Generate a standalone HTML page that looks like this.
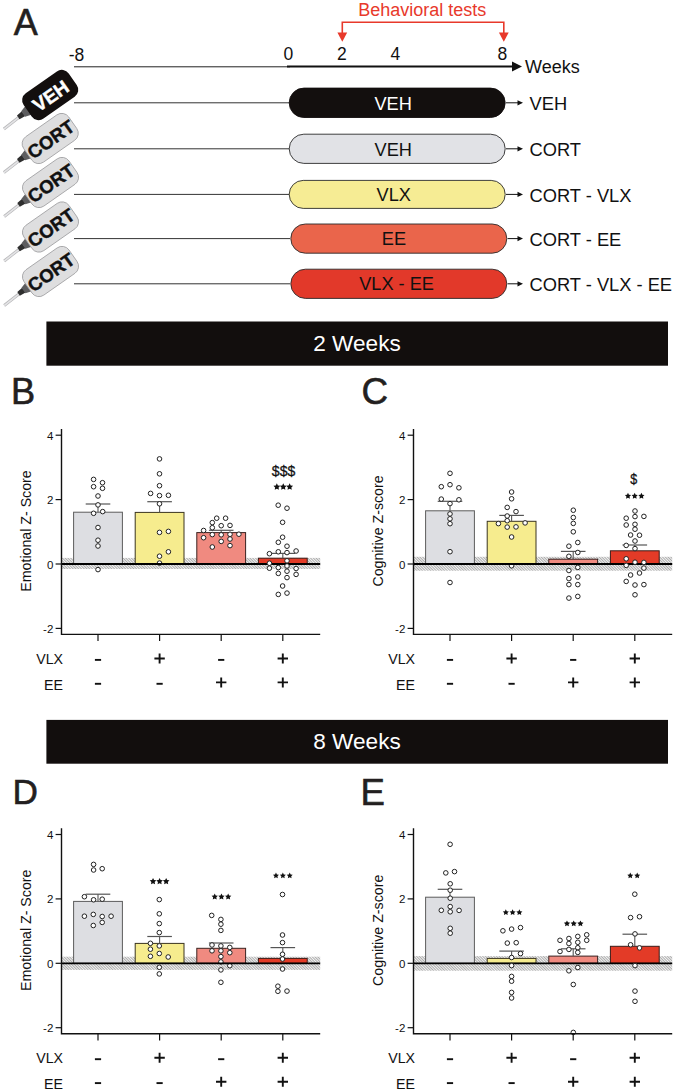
<!DOCTYPE html>
<html><head><meta charset="utf-8"><style>
html,body{margin:0;padding:0;background:#fff;}
svg{display:block;}
text{font-family:"Liberation Sans", sans-serif;}
</style></head><body>
<svg width="675" height="1092" viewBox="0 0 675 1092">
<defs>
<pattern id="hatch" patternUnits="userSpaceOnUse" width="1.95" height="4" patternTransform="rotate(-45)">
<rect width="1.95" height="4" fill="#f3f3f3"/>
<line x1="0.5" y1="0" x2="0.5" y2="4" stroke="#a5a5a5" stroke-width="0.9"/>
</pattern>
</defs>
<rect width="675" height="1092" fill="#fff"/>

<text x="13.8" y="35" font-size="36" fill="#231f20" stroke="#231f20" stroke-width="0.6">A</text>
<line x1="74" y1="66.8" x2="290" y2="66.8" stroke="#222" stroke-width="1"/>
<line x1="287" y1="66.4" x2="514" y2="66.4" stroke="#111" stroke-width="2"/>
<path d="M512,61.4 L522,66.4 L512,71.4 Z" fill="#111"/>
<text x="76.5" y="60.5" text-anchor="middle" font-size="17.5" fill="#111">-8</text>
<text x="288.3" y="60.1" text-anchor="middle" font-size="17.5" fill="#111">0</text>
<text x="341.8" y="60.1" text-anchor="middle" font-size="17.5" fill="#111">2</text>
<text x="395.3" y="60.1" text-anchor="middle" font-size="17.5" fill="#111">4</text>
<text x="502.3" y="59.7" text-anchor="middle" font-size="17.5" fill="#111">8</text>
<text x="525" y="73" font-size="18" fill="#111">Weeks</text>
<text x="422.2" y="15.6" text-anchor="middle" font-size="18" fill="#e8392b">Behavioral tests</text>
<path d="M342.3,34 V22.2 H503.8 V34" fill="none" stroke="#e8392b" stroke-width="1.6"/>
<path d="M337.4,32.6 L347.2,32.6 L342.3,41.8 Z" fill="#e8392b"/>
<path d="M498.9,32.6 L508.7,32.6 L503.8,41.8 Z" fill="#e8392b"/>
<line x1="74" y1="102.8" x2="290" y2="102.8" stroke="#333" stroke-width="1"/>
<rect x="289.2" y="88.10" width="216" height="29.4" rx="14.7" fill="#130f0e" stroke="#130f0e" stroke-width="0.9"/><text x="393.2" y="109.90" text-anchor="middle" font-size="18.2" fill="#fff">VEH</text>
<line x1="506" y1="102.8" x2="519" y2="102.8" stroke="#111" stroke-width="1"/><path d="M517.5,100.2 L523,102.8 L517.5,105.39999999999999 Z" fill="#111"/>
<text x="529.5" y="110.00" font-size="18.3" fill="#111">VEH</text>
<line x1="74" y1="148.8" x2="290" y2="148.8" stroke="#333" stroke-width="1"/>
<rect x="289.2" y="134.20" width="216" height="29.2" rx="14.6" fill="#e1e2e6" stroke="#2a2a2a" stroke-width="0.9"/><text x="393.3" y="155.90" text-anchor="middle" font-size="18.2" fill="#111">VEH</text>
<line x1="506" y1="148.8" x2="519" y2="148.8" stroke="#111" stroke-width="1"/><path d="M517.5,146.20000000000002 L523,148.8 L517.5,151.4 Z" fill="#111"/>
<text x="529.5" y="156.00" font-size="18.3" fill="#111">CORT</text>
<line x1="74" y1="194.4" x2="290" y2="194.4" stroke="#333" stroke-width="1"/>
<rect x="289.2" y="180.40" width="216" height="28.0" rx="14.0" fill="#f6ec94" stroke="#2a2a2a" stroke-width="0.9"/><text x="393.8" y="201.20" text-anchor="middle" font-size="18.2" fill="#111">VLX</text>
<line x1="506" y1="194.4" x2="519" y2="194.4" stroke="#111" stroke-width="1"/><path d="M517.5,191.8 L523,194.4 L517.5,197.0 Z" fill="#111"/>
<text x="529.5" y="201.60" font-size="18.3" fill="#111">CORT - VLX</text>
<line x1="74" y1="238.6" x2="290" y2="238.6" stroke="#333" stroke-width="1"/>
<rect x="290.8" y="224.00" width="216" height="29.2" rx="14.6" fill="#ea654b" stroke="#2a2a2a" stroke-width="0.9"/><text x="393.9" y="245.00" text-anchor="middle" font-size="18.2" fill="#111">EE</text>
<line x1="507.6" y1="238.6" x2="519" y2="238.6" stroke="#111" stroke-width="1"/><path d="M517.5,236.0 L523,238.6 L517.5,241.2 Z" fill="#111"/>
<text x="529.5" y="245.80" font-size="18.3" fill="#111">CORT - EE</text>
<line x1="74" y1="283.8" x2="290" y2="283.8" stroke="#333" stroke-width="1"/>
<rect x="290.8" y="269.20" width="216" height="29.2" rx="14.6" fill="#e2392a" stroke="#2a2a2a" stroke-width="0.9"/><text x="396.6" y="289.90" text-anchor="middle" font-size="18.2" fill="#111">VLX - EE</text>
<line x1="507.6" y1="283.8" x2="519" y2="283.8" stroke="#111" stroke-width="1"/><path d="M517.5,281.2 L523,283.8 L517.5,286.40000000000003 Z" fill="#111"/>
<text x="529.5" y="291.00" font-size="18.3" fill="#111">CORT - VLX - EE</text>
<g transform="translate(50.2,95.0) rotate(-35)"><g transform="rotate(-3,-33,0)"><line x1="-38" y1="0" x2="-57.5" y2="0" stroke="#b8b8ba" stroke-width="3"/><line x1="-38" y1="0" x2="-57.5" y2="0" stroke="#e4e4e6" stroke-width="1.6"/></g><path d="M-32.5,-3 L-39,-2.2 L-39,2.2 L-32.5,3 Z" fill="#2e2e2e"/><path d="M-26,-5.5 L-33,-3.4 L-33,3.4 L-26,5.5 Z" fill="#5d5d5f"/><rect x="-27.5" y="-15.5" width="55" height="31" rx="8.5" fill="#130f0e"/><text x="0" y="7.64" text-anchor="middle" font-family='"Liberation Sans", sans-serif' font-weight="bold" font-size="19" fill="#fff" stroke="#fff" stroke-width="0.45">VEH</text></g>
<g transform="translate(50.2,138.5) rotate(-35)"><g transform="rotate(-3,-33,0)"><line x1="-38" y1="0" x2="-57.5" y2="0" stroke="#b8b8ba" stroke-width="3"/><line x1="-38" y1="0" x2="-57.5" y2="0" stroke="#e4e4e6" stroke-width="1.6"/></g><path d="M-32.5,-3 L-39,-2.2 L-39,2.2 L-32.5,3 Z" fill="#2e2e2e"/><path d="M-26,-5.5 L-33,-3.4 L-33,3.4 L-26,5.5 Z" fill="#5d5d5f"/><rect x="-27.5" y="-15.5" width="55" height="31" rx="8.5" fill="#dededf" stroke="#a0a0a2" stroke-width="0.8"/><text x="0" y="7.46" text-anchor="middle" font-family='"Liberation Sans", sans-serif' font-weight="bold" font-size="18.5" fill="#111" stroke="#111" stroke-width="0.45">CORT</text></g>
<g transform="translate(50.5,182.5) rotate(-35)"><g transform="rotate(-3,-33,0)"><line x1="-38" y1="0" x2="-57.5" y2="0" stroke="#b8b8ba" stroke-width="3"/><line x1="-38" y1="0" x2="-57.5" y2="0" stroke="#e4e4e6" stroke-width="1.6"/></g><path d="M-32.5,-3 L-39,-2.2 L-39,2.2 L-32.5,3 Z" fill="#2e2e2e"/><path d="M-26,-5.5 L-33,-3.4 L-33,3.4 L-26,5.5 Z" fill="#5d5d5f"/><rect x="-27.5" y="-15.5" width="55" height="31" rx="8.5" fill="#dededf" stroke="#a0a0a2" stroke-width="0.8"/><text x="0" y="7.46" text-anchor="middle" font-family='"Liberation Sans", sans-serif' font-weight="bold" font-size="18.5" fill="#111" stroke="#111" stroke-width="0.45">CORT</text></g>
<g transform="translate(50.5,227) rotate(-35)"><g transform="rotate(-3,-33,0)"><line x1="-38" y1="0" x2="-57.5" y2="0" stroke="#b8b8ba" stroke-width="3"/><line x1="-38" y1="0" x2="-57.5" y2="0" stroke="#e4e4e6" stroke-width="1.6"/></g><path d="M-32.5,-3 L-39,-2.2 L-39,2.2 L-32.5,3 Z" fill="#2e2e2e"/><path d="M-26,-5.5 L-33,-3.4 L-33,3.4 L-26,5.5 Z" fill="#5d5d5f"/><rect x="-27.5" y="-15.5" width="55" height="31" rx="8.5" fill="#dededf" stroke="#a0a0a2" stroke-width="0.8"/><text x="0" y="7.46" text-anchor="middle" font-family='"Liberation Sans", sans-serif' font-weight="bold" font-size="18.5" fill="#111" stroke="#111" stroke-width="0.45">CORT</text></g>
<g transform="translate(50.5,271.5) rotate(-35)"><g transform="rotate(-3,-33,0)"><line x1="-38" y1="0" x2="-57.5" y2="0" stroke="#b8b8ba" stroke-width="3"/><line x1="-38" y1="0" x2="-57.5" y2="0" stroke="#e4e4e6" stroke-width="1.6"/></g><path d="M-32.5,-3 L-39,-2.2 L-39,2.2 L-32.5,3 Z" fill="#2e2e2e"/><path d="M-26,-5.5 L-33,-3.4 L-33,3.4 L-26,5.5 Z" fill="#5d5d5f"/><rect x="-27.5" y="-15.5" width="55" height="31" rx="8.5" fill="#dededf" stroke="#a0a0a2" stroke-width="0.8"/><text x="0" y="7.46" text-anchor="middle" font-family='"Liberation Sans", sans-serif' font-weight="bold" font-size="18.5" fill="#111" stroke="#111" stroke-width="0.45">CORT</text></g>
<rect x="46.4" y="321.5" width="621.6" height="44.2" fill="#120e0d"/>
<text x="357" y="350.5" text-anchor="middle" font-size="22.6" fill="#fff">2 Weeks</text>
<rect x="46.4" y="719.9" width="621.6" height="43.8" fill="#120e0d"/>
<text x="357" y="748.8" text-anchor="middle" font-size="22.6" fill="#fff">8 Weeks</text>
<text x="11" y="403.8" font-size="36.2" fill="#231f20" stroke="#231f20" stroke-width="0.6">B</text>
<text x="361.6" y="404.0" font-size="36.8" fill="#231f20" stroke="#231f20" stroke-width="0.6">C</text>
<text x="12.5" y="804.4" font-size="35.2" fill="#231f20" stroke="#231f20" stroke-width="0.6">D</text>
<text x="360.5" y="804.7" font-size="36.6" fill="#231f20" stroke="#231f20" stroke-width="0.6">E</text>
<g fill="#fff" stroke="#222" stroke-width="1">
</g>
<rect x="61.5" y="557.90" width="258.7" height="11.10" fill="url(#hatch)"/>
<rect x="73.60" y="512.20" width="48.8" height="51.80" fill="#dddee2" stroke="#5c5c5c" stroke-width="1"/>
<line x1="98.00" y1="504.00" x2="98.00" y2="512.20" stroke="#555" stroke-width="1.1"/>
<line x1="85.70" y1="504.00" x2="110.30" y2="504.00" stroke="#555" stroke-width="1.2"/>
<rect x="135.20" y="512.40" width="48.8" height="51.60" fill="#f6ec8e" stroke="#3a3520" stroke-width="1"/>
<line x1="159.60" y1="501.70" x2="159.60" y2="512.40" stroke="#555" stroke-width="1.1"/>
<line x1="147.30" y1="501.70" x2="171.90" y2="501.70" stroke="#555" stroke-width="1.2"/>
<rect x="196.80" y="532.60" width="48.8" height="31.40" fill="#f08a80" stroke="#3a2220" stroke-width="1"/>
<line x1="221.20" y1="530.30" x2="221.20" y2="532.60" stroke="#555" stroke-width="1.1"/>
<line x1="208.90" y1="530.30" x2="233.50" y2="530.30" stroke="#555" stroke-width="1.2"/>
<rect x="258.40" y="558.20" width="48.8" height="5.80" fill="#e33b27" stroke="#3a1c18" stroke-width="1"/>
<line x1="282.80" y1="553.40" x2="282.80" y2="558.20" stroke="#555" stroke-width="1.1"/>
<line x1="270.50" y1="553.40" x2="295.10" y2="553.40" stroke="#555" stroke-width="1.2"/>
<circle fill="#fff" stroke="#222" stroke-width="1" cx="159.5" cy="563.1" r="2.3"/>
<line x1="61.5" y1="564.00" x2="320.2" y2="564.00" stroke="#000" stroke-width="1.8"/>
<circle fill="#fff" stroke="#222" stroke-width="1" cx="93.6" cy="479.4" r="2.3"/>
<circle fill="#fff" stroke="#222" stroke-width="1" cx="102.5" cy="482.7" r="2.3"/>
<circle fill="#fff" stroke="#222" stroke-width="1" cx="93.6" cy="486.7" r="2.3"/>
<circle fill="#fff" stroke="#222" stroke-width="1" cx="102.5" cy="488.3" r="2.3"/>
<circle fill="#fff" stroke="#222" stroke-width="1" cx="98" cy="496" r="2.3"/>
<circle fill="#fff" stroke="#222" stroke-width="1" cx="98" cy="504.9" r="2.3"/>
<circle fill="#fff" stroke="#222" stroke-width="1" cx="93.6" cy="513.3" r="2.3"/>
<circle fill="#fff" stroke="#222" stroke-width="1" cx="102.7" cy="511.6" r="2.3"/>
<circle fill="#fff" stroke="#222" stroke-width="1" cx="98" cy="527.5" r="2.3"/>
<circle fill="#fff" stroke="#222" stroke-width="1" cx="98" cy="540.2" r="2.3"/>
<circle fill="#fff" stroke="#222" stroke-width="1" cx="98" cy="546" r="2.3"/>
<circle fill="#fff" stroke="#222" stroke-width="1" cx="98" cy="569.6" r="2.3"/>
<circle fill="#fff" stroke="#222" stroke-width="1" cx="159.5" cy="458.9" r="2.3"/>
<circle fill="#fff" stroke="#222" stroke-width="1" cx="159.5" cy="473.8" r="2.3"/>
<circle fill="#fff" stroke="#222" stroke-width="1" cx="159.5" cy="485.7" r="2.3"/>
<circle fill="#fff" stroke="#222" stroke-width="1" cx="150.6" cy="493.4" r="2.3"/>
<circle fill="#fff" stroke="#222" stroke-width="1" cx="159.5" cy="495.6" r="2.3"/>
<circle fill="#fff" stroke="#222" stroke-width="1" cx="168.4" cy="495.3" r="2.3"/>
<circle fill="#fff" stroke="#222" stroke-width="1" cx="159.5" cy="503.8" r="2.3"/>
<circle fill="#fff" stroke="#222" stroke-width="1" cx="159.5" cy="532.4" r="2.3"/>
<circle fill="#fff" stroke="#222" stroke-width="1" cx="168.4" cy="531.4" r="2.3"/>
<circle fill="#fff" stroke="#222" stroke-width="1" cx="168.4" cy="551.8" r="2.3"/>
<circle fill="#fff" stroke="#222" stroke-width="1" cx="159.5" cy="556.2" r="2.3"/>
<circle fill="#fff" stroke="#222" stroke-width="1" cx="216.7" cy="518.2" r="2.3"/>
<circle fill="#fff" stroke="#222" stroke-width="1" cx="225.6" cy="518.2" r="2.3"/>
<circle fill="#fff" stroke="#222" stroke-width="1" cx="212.3" cy="522.6" r="2.3"/>
<circle fill="#fff" stroke="#222" stroke-width="1" cx="221.2" cy="525.7" r="2.3"/>
<circle fill="#fff" stroke="#222" stroke-width="1" cx="230" cy="525.4" r="2.3"/>
<circle fill="#fff" stroke="#222" stroke-width="1" cx="212.3" cy="527.7" r="2.3"/>
<circle fill="#fff" stroke="#222" stroke-width="1" cx="203.6" cy="530.5" r="2.3"/>
<circle fill="#fff" stroke="#222" stroke-width="1" cx="212.3" cy="534.6" r="2.3"/>
<circle fill="#fff" stroke="#222" stroke-width="1" cx="221.2" cy="534.8" r="2.3"/>
<circle fill="#fff" stroke="#222" stroke-width="1" cx="230" cy="534.3" r="2.3"/>
<circle fill="#fff" stroke="#222" stroke-width="1" cx="238.9" cy="534.2" r="2.3"/>
<circle fill="#fff" stroke="#222" stroke-width="1" cx="203.6" cy="537.7" r="2.3"/>
<circle fill="#fff" stroke="#222" stroke-width="1" cx="230" cy="539" r="2.3"/>
<circle fill="#fff" stroke="#222" stroke-width="1" cx="221.2" cy="541.4" r="2.3"/>
<circle fill="#fff" stroke="#222" stroke-width="1" cx="230" cy="545.6" r="2.3"/>
<circle fill="#fff" stroke="#222" stroke-width="1" cx="212.3" cy="547" r="2.3"/>
<circle fill="#fff" stroke="#222" stroke-width="1" cx="278.2" cy="505.2" r="2.3"/>
<circle fill="#fff" stroke="#222" stroke-width="1" cx="287" cy="508.2" r="2.3"/>
<circle fill="#fff" stroke="#222" stroke-width="1" cx="282.6" cy="522.3" r="2.3"/>
<circle fill="#fff" stroke="#222" stroke-width="1" cx="282.6" cy="537.2" r="2.3"/>
<circle fill="#fff" stroke="#222" stroke-width="1" cx="278.3" cy="542.3" r="2.3"/>
<circle fill="#fff" stroke="#222" stroke-width="1" cx="287" cy="546.2" r="2.3"/>
<circle fill="#fff" stroke="#222" stroke-width="1" cx="269.4" cy="553.7" r="2.3"/>
<circle fill="#fff" stroke="#222" stroke-width="1" cx="278.3" cy="551.8" r="2.3"/>
<circle fill="#fff" stroke="#222" stroke-width="1" cx="287" cy="552.6" r="2.3"/>
<circle fill="#fff" stroke="#222" stroke-width="1" cx="296.1" cy="551" r="2.3"/>
<circle fill="#fff" stroke="#222" stroke-width="1" cx="287" cy="560.8" r="2.3"/>
<circle fill="#fff" stroke="#222" stroke-width="1" cx="269.4" cy="563.2" r="2.3"/>
<circle fill="#fff" stroke="#222" stroke-width="1" cx="269.4" cy="568.2" r="2.3"/>
<circle fill="#fff" stroke="#222" stroke-width="1" cx="278.3" cy="567.6" r="2.3"/>
<circle fill="#fff" stroke="#222" stroke-width="1" cx="287" cy="566" r="2.3"/>
<circle fill="#fff" stroke="#222" stroke-width="1" cx="296.1" cy="568.5" r="2.3"/>
<circle fill="#fff" stroke="#222" stroke-width="1" cx="287" cy="571.2" r="2.3"/>
<circle fill="#fff" stroke="#222" stroke-width="1" cx="278.3" cy="573.4" r="2.3"/>
<circle fill="#fff" stroke="#222" stroke-width="1" cx="296.1" cy="574.4" r="2.3"/>
<circle fill="#fff" stroke="#222" stroke-width="1" cx="287" cy="577.6" r="2.3"/>
<circle fill="#fff" stroke="#222" stroke-width="1" cx="282.6" cy="586" r="2.3"/>
<circle fill="#fff" stroke="#222" stroke-width="1" cx="278.3" cy="594.4" r="2.3"/>
<circle fill="#fff" stroke="#222" stroke-width="1" cx="287" cy="593.1" r="2.3"/>
<path d="M61.5,429.00 V634.40 H320.2" fill="none" stroke="#111" stroke-width="1.4"/>
<line x1="55.6" y1="435.20" x2="61.5" y2="435.20" stroke="#111" stroke-width="1.2"/>
<text x="53.3" y="439.70" text-anchor="end" font-size="11.5" fill="#111">4</text>
<line x1="55.6" y1="499.60" x2="61.5" y2="499.60" stroke="#111" stroke-width="1.2"/>
<text x="53.3" y="504.10" text-anchor="end" font-size="11.5" fill="#111">2</text>
<line x1="55.6" y1="564.00" x2="61.5" y2="564.00" stroke="#111" stroke-width="1.2"/>
<text x="53.3" y="568.50" text-anchor="end" font-size="11.5" fill="#111">0</text>
<line x1="55.6" y1="628.40" x2="61.5" y2="628.40" stroke="#111" stroke-width="1.2"/>
<text x="53.3" y="632.90" text-anchor="end" font-size="11.5" fill="#111">-2</text>
<line x1="98.0" y1="634.40" x2="98.0" y2="641.10" stroke="#111" stroke-width="1.2"/>
<line x1="159.6" y1="634.40" x2="159.6" y2="641.10" stroke="#111" stroke-width="1.2"/>
<line x1="221.2" y1="634.40" x2="221.2" y2="641.10" stroke="#111" stroke-width="1.2"/>
<line x1="282.8" y1="634.40" x2="282.8" y2="641.10" stroke="#111" stroke-width="1.2"/>
<text transform="translate(31,531.00) rotate(-90)" text-anchor="middle" font-size="14.2" fill="#111">Emotional Z- Score</text>
<text x="63" y="663.60" text-anchor="end" font-size="14.2" fill="#111">VLX</text>
<text x="63" y="689.60" text-anchor="end" font-size="14.2" fill="#111">EE</text>
<line x1="94.90" y1="659.90" x2="101.10" y2="659.90" stroke="#111" stroke-width="1.9"/>
<line x1="94.90" y1="683.80" x2="101.10" y2="683.80" stroke="#111" stroke-width="1.9"/>
<path d="M154.40,658.50 H164.80 M159.60,653.50 V663.50" stroke="#111" stroke-width="1.9" fill="none"/>
<line x1="156.50" y1="683.80" x2="162.70" y2="683.80" stroke="#111" stroke-width="1.9"/>
<line x1="218.10" y1="659.90" x2="224.30" y2="659.90" stroke="#111" stroke-width="1.9"/>
<path d="M216.00,682.40 H226.40 M221.20,677.40 V687.40" stroke="#111" stroke-width="1.9" fill="none"/>
<path d="M277.60,658.50 H288.00 M282.80,653.50 V663.50" stroke="#111" stroke-width="1.9" fill="none"/>
<path d="M277.60,682.40 H288.00 M282.80,677.40 V687.40" stroke="#111" stroke-width="1.9" fill="none"/>
<polygon points="276.84,483.25 277.90,485.39 280.26,485.74 278.55,487.40 278.95,489.75 276.84,488.64 274.73,489.75 275.14,487.40 273.43,485.74 275.79,485.39" fill="#111"/>
<polygon points="283.25,483.25 284.31,485.39 286.67,485.74 284.96,487.40 285.36,489.75 283.25,488.64 281.14,489.75 281.54,487.40 279.83,485.74 282.19,485.39" fill="#111"/>
<polygon points="289.66,483.25 290.71,485.39 293.07,485.74 291.36,487.40 291.77,489.75 289.66,488.64 287.55,489.75 287.95,487.40 286.24,485.74 288.60,485.39" fill="#111"/>
<text x="271.85" y="476.25" font-size="15.3" textLength="23.4" lengthAdjust="spacingAndGlyphs" fill="#111" stroke="#111" stroke-width="0.3">$$$</text>
<rect x="413.5" y="556.80" width="258.7" height="13.90" fill="url(#hatch)"/>
<circle fill="#fff" stroke="#222" stroke-width="1" cx="511.6" cy="565.8" r="2.3"/>
<rect x="425.60" y="510.80" width="48.8" height="53.20" fill="#dddee2" stroke="#5c5c5c" stroke-width="1"/>
<line x1="450.00" y1="501.30" x2="450.00" y2="510.80" stroke="#555" stroke-width="1.1"/>
<line x1="437.70" y1="501.30" x2="462.30" y2="501.30" stroke="#555" stroke-width="1.2"/>
<rect x="487.20" y="521.30" width="48.8" height="42.70" fill="#f6ec8e" stroke="#3a3520" stroke-width="1"/>
<line x1="511.60" y1="515.40" x2="511.60" y2="521.30" stroke="#555" stroke-width="1.1"/>
<line x1="499.30" y1="515.40" x2="523.90" y2="515.40" stroke="#555" stroke-width="1.2"/>
<rect x="548.80" y="559.20" width="48.8" height="4.80" fill="#f08a80" stroke="#3a2220" stroke-width="1"/>
<line x1="573.20" y1="551.40" x2="573.20" y2="559.20" stroke="#555" stroke-width="1.1"/>
<line x1="560.90" y1="551.40" x2="585.50" y2="551.40" stroke="#555" stroke-width="1.2"/>
<rect x="610.40" y="550.80" width="48.8" height="13.20" fill="#e33b27" stroke="#3a1c18" stroke-width="1"/>
<line x1="634.80" y1="545.00" x2="634.80" y2="550.80" stroke="#555" stroke-width="1.1"/>
<line x1="622.50" y1="545.00" x2="647.10" y2="545.00" stroke="#555" stroke-width="1.2"/>
<line x1="413.5" y1="564.00" x2="672.2" y2="564.00" stroke="#000" stroke-width="1.8"/>
<circle fill="#fff" stroke="#222" stroke-width="1" cx="450" cy="473.3" r="2.3"/>
<circle fill="#fff" stroke="#222" stroke-width="1" cx="450" cy="484.7" r="2.3"/>
<circle fill="#fff" stroke="#222" stroke-width="1" cx="441.3" cy="486.7" r="2.3"/>
<circle fill="#fff" stroke="#222" stroke-width="1" cx="458.9" cy="487.8" r="2.3"/>
<circle fill="#fff" stroke="#222" stroke-width="1" cx="441.3" cy="499.1" r="2.3"/>
<circle fill="#fff" stroke="#222" stroke-width="1" cx="458.9" cy="499.8" r="2.3"/>
<circle fill="#fff" stroke="#222" stroke-width="1" cx="450" cy="503.6" r="2.3"/>
<circle fill="#fff" stroke="#222" stroke-width="1" cx="450" cy="513.9" r="2.3"/>
<circle fill="#fff" stroke="#222" stroke-width="1" cx="450" cy="518.8" r="2.3"/>
<circle fill="#fff" stroke="#222" stroke-width="1" cx="450" cy="523.7" r="2.3"/>
<circle fill="#fff" stroke="#222" stroke-width="1" cx="450" cy="551.7" r="2.3"/>
<circle fill="#fff" stroke="#222" stroke-width="1" cx="450" cy="582.5" r="2.3"/>
<circle fill="#fff" stroke="#222" stroke-width="1" cx="511.6" cy="492" r="2.3"/>
<circle fill="#fff" stroke="#222" stroke-width="1" cx="511.6" cy="498.8" r="2.3"/>
<circle fill="#fff" stroke="#222" stroke-width="1" cx="507.2" cy="507.4" r="2.3"/>
<circle fill="#fff" stroke="#222" stroke-width="1" cx="516" cy="511.6" r="2.3"/>
<circle fill="#fff" stroke="#222" stroke-width="1" cx="507.2" cy="516" r="2.3"/>
<circle fill="#fff" stroke="#222" stroke-width="1" cx="507.2" cy="520.7" r="2.3"/>
<circle fill="#fff" stroke="#222" stroke-width="1" cx="498.4" cy="523.6" r="2.3"/>
<circle fill="#fff" stroke="#222" stroke-width="1" cx="525.1" cy="522.9" r="2.3"/>
<circle fill="#fff" stroke="#222" stroke-width="1" cx="507.2" cy="527.1" r="2.3"/>
<circle fill="#fff" stroke="#222" stroke-width="1" cx="516" cy="526.9" r="2.3"/>
<circle fill="#fff" stroke="#222" stroke-width="1" cx="511.6" cy="537" r="2.3"/>
<circle fill="#fff" stroke="#222" stroke-width="1" cx="573.3" cy="510.2" r="2.3"/>
<circle fill="#fff" stroke="#222" stroke-width="1" cx="573.3" cy="517.5" r="2.3"/>
<circle fill="#fff" stroke="#222" stroke-width="1" cx="573.3" cy="523.4" r="2.3"/>
<circle fill="#fff" stroke="#222" stroke-width="1" cx="573.3" cy="531.8" r="2.3"/>
<circle fill="#fff" stroke="#222" stroke-width="1" cx="577.8" cy="542.5" r="2.3"/>
<circle fill="#fff" stroke="#222" stroke-width="1" cx="568.9" cy="546.2" r="2.3"/>
<circle fill="#fff" stroke="#222" stroke-width="1" cx="577.8" cy="552.5" r="2.3"/>
<circle fill="#fff" stroke="#222" stroke-width="1" cx="568.9" cy="556.3" r="2.3"/>
<circle fill="#fff" stroke="#222" stroke-width="1" cx="577.8" cy="567.4" r="2.3"/>
<circle fill="#fff" stroke="#222" stroke-width="1" cx="568.9" cy="570.5" r="2.3"/>
<circle fill="#fff" stroke="#222" stroke-width="1" cx="577.8" cy="577" r="2.3"/>
<circle fill="#fff" stroke="#222" stroke-width="1" cx="568.9" cy="578.6" r="2.3"/>
<circle fill="#fff" stroke="#222" stroke-width="1" cx="577.8" cy="584.6" r="2.3"/>
<circle fill="#fff" stroke="#222" stroke-width="1" cx="568.9" cy="584.6" r="2.3"/>
<circle fill="#fff" stroke="#222" stroke-width="1" cx="577.8" cy="596.4" r="2.3"/>
<circle fill="#fff" stroke="#222" stroke-width="1" cx="568.9" cy="598.1" r="2.3"/>
<circle fill="#fff" stroke="#222" stroke-width="1" cx="635" cy="511" r="2.3"/>
<circle fill="#fff" stroke="#222" stroke-width="1" cx="626.2" cy="518.2" r="2.3"/>
<circle fill="#fff" stroke="#222" stroke-width="1" cx="635" cy="516.6" r="2.3"/>
<circle fill="#fff" stroke="#222" stroke-width="1" cx="643.9" cy="516.4" r="2.3"/>
<circle fill="#fff" stroke="#222" stroke-width="1" cx="626.2" cy="525" r="2.3"/>
<circle fill="#fff" stroke="#222" stroke-width="1" cx="635" cy="524.3" r="2.3"/>
<circle fill="#fff" stroke="#222" stroke-width="1" cx="635" cy="529.2" r="2.3"/>
<circle fill="#fff" stroke="#222" stroke-width="1" cx="630.6" cy="535" r="2.3"/>
<circle fill="#fff" stroke="#222" stroke-width="1" cx="639.5" cy="535.2" r="2.3"/>
<circle fill="#fff" stroke="#222" stroke-width="1" cx="635" cy="541" r="2.3"/>
<circle fill="#fff" stroke="#222" stroke-width="1" cx="626.2" cy="545.4" r="2.3"/>
<circle fill="#fff" stroke="#222" stroke-width="1" cx="635" cy="548.6" r="2.3"/>
<circle fill="#fff" stroke="#222" stroke-width="1" cx="626.2" cy="558.8" r="2.3"/>
<circle fill="#fff" stroke="#222" stroke-width="1" cx="635" cy="562.2" r="2.3"/>
<circle fill="#fff" stroke="#222" stroke-width="1" cx="643.9" cy="562.4" r="2.3"/>
<circle fill="#fff" stroke="#222" stroke-width="1" cx="626.2" cy="565.4" r="2.3"/>
<circle fill="#fff" stroke="#222" stroke-width="1" cx="643.9" cy="568.1" r="2.3"/>
<circle fill="#fff" stroke="#222" stroke-width="1" cx="639.5" cy="573" r="2.3"/>
<circle fill="#fff" stroke="#222" stroke-width="1" cx="630.6" cy="575" r="2.3"/>
<circle fill="#fff" stroke="#222" stroke-width="1" cx="626.2" cy="581.4" r="2.3"/>
<circle fill="#fff" stroke="#222" stroke-width="1" cx="635" cy="585" r="2.3"/>
<circle fill="#fff" stroke="#222" stroke-width="1" cx="643.9" cy="584.6" r="2.3"/>
<circle fill="#fff" stroke="#222" stroke-width="1" cx="635" cy="594.8" r="2.3"/>
<path d="M413.5,429.00 V634.40 H672.2" fill="none" stroke="#111" stroke-width="1.4"/>
<line x1="407.6" y1="435.20" x2="413.5" y2="435.20" stroke="#111" stroke-width="1.2"/>
<text x="405.3" y="439.70" text-anchor="end" font-size="11.5" fill="#111">4</text>
<line x1="407.6" y1="499.60" x2="413.5" y2="499.60" stroke="#111" stroke-width="1.2"/>
<text x="405.3" y="504.10" text-anchor="end" font-size="11.5" fill="#111">2</text>
<line x1="407.6" y1="564.00" x2="413.5" y2="564.00" stroke="#111" stroke-width="1.2"/>
<text x="405.3" y="568.50" text-anchor="end" font-size="11.5" fill="#111">0</text>
<line x1="407.6" y1="628.40" x2="413.5" y2="628.40" stroke="#111" stroke-width="1.2"/>
<text x="405.3" y="632.90" text-anchor="end" font-size="11.5" fill="#111">-2</text>
<line x1="450.0" y1="634.40" x2="450.0" y2="641.10" stroke="#111" stroke-width="1.2"/>
<line x1="511.6" y1="634.40" x2="511.6" y2="641.10" stroke="#111" stroke-width="1.2"/>
<line x1="573.2" y1="634.40" x2="573.2" y2="641.10" stroke="#111" stroke-width="1.2"/>
<line x1="634.8" y1="634.40" x2="634.8" y2="641.10" stroke="#111" stroke-width="1.2"/>
<text transform="translate(383,531.00) rotate(-90)" text-anchor="middle" font-size="14.2" fill="#111">Cognitive Z-score</text>
<text x="415" y="663.60" text-anchor="end" font-size="14.2" fill="#111">VLX</text>
<text x="415" y="689.60" text-anchor="end" font-size="14.2" fill="#111">EE</text>
<line x1="446.90" y1="659.90" x2="453.10" y2="659.90" stroke="#111" stroke-width="1.9"/>
<line x1="446.90" y1="683.80" x2="453.10" y2="683.80" stroke="#111" stroke-width="1.9"/>
<path d="M506.40,658.50 H516.80 M511.60,653.50 V663.50" stroke="#111" stroke-width="1.9" fill="none"/>
<line x1="508.50" y1="683.80" x2="514.70" y2="683.80" stroke="#111" stroke-width="1.9"/>
<line x1="570.10" y1="659.90" x2="576.30" y2="659.90" stroke="#111" stroke-width="1.9"/>
<path d="M568.00,682.40 H578.40 M573.20,677.40 V687.40" stroke="#111" stroke-width="1.9" fill="none"/>
<path d="M629.60,658.50 H640.00 M634.80,653.50 V663.50" stroke="#111" stroke-width="1.9" fill="none"/>
<path d="M629.60,682.40 H640.00 M634.80,677.40 V687.40" stroke="#111" stroke-width="1.9" fill="none"/>
<polygon points="627.98,492.80 628.94,494.75 631.09,495.06 629.54,496.57 629.90,498.71 627.98,497.70 626.06,498.71 626.43,496.57 624.87,495.06 627.02,494.75" fill="#111"/>
<polygon points="634.70,492.80 635.66,494.75 637.81,495.06 636.26,496.57 636.62,498.71 634.70,497.70 632.78,498.71 633.14,496.57 631.59,495.06 633.74,494.75" fill="#111"/>
<polygon points="641.42,492.80 642.38,494.75 644.53,495.06 642.97,496.57 643.34,498.71 641.42,497.70 639.50,498.71 639.86,496.57 638.31,495.06 640.46,494.75" fill="#111"/>
<text x="630.35" y="483.65" font-size="15.3" textLength="7.0" lengthAdjust="spacingAndGlyphs" fill="#111" stroke="#111" stroke-width="0.3">$</text>
<rect x="61.5" y="956.70" width="258.7" height="13.20" fill="url(#hatch)"/>
<rect x="73.60" y="901.40" width="48.8" height="61.90" fill="#dddee2" stroke="#5c5c5c" stroke-width="1"/>
<line x1="98.00" y1="894.20" x2="98.00" y2="901.40" stroke="#555" stroke-width="1.1"/>
<line x1="85.70" y1="894.20" x2="110.30" y2="894.20" stroke="#555" stroke-width="1.2"/>
<rect x="135.20" y="943.40" width="48.8" height="19.90" fill="#f6ec8e" stroke="#3a3520" stroke-width="1"/>
<line x1="159.60" y1="936.50" x2="159.60" y2="943.40" stroke="#555" stroke-width="1.1"/>
<line x1="147.30" y1="936.50" x2="171.90" y2="936.50" stroke="#555" stroke-width="1.2"/>
<rect x="196.80" y="948.30" width="48.8" height="15.00" fill="#f08a80" stroke="#3a2220" stroke-width="1"/>
<line x1="221.20" y1="943.00" x2="221.20" y2="948.30" stroke="#555" stroke-width="1.1"/>
<line x1="208.90" y1="943.00" x2="233.50" y2="943.00" stroke="#555" stroke-width="1.2"/>
<rect x="258.40" y="958.40" width="48.8" height="4.90" fill="#e33b27" stroke="#3a1c18" stroke-width="1"/>
<line x1="282.80" y1="947.60" x2="282.80" y2="958.40" stroke="#555" stroke-width="1.1"/>
<line x1="270.50" y1="947.60" x2="295.10" y2="947.60" stroke="#555" stroke-width="1.2"/>
<circle fill="#fff" stroke="#222" stroke-width="1" cx="220.9" cy="961.9" r="2.3"/>
<circle fill="#fff" stroke="#222" stroke-width="1" cx="229.8" cy="965.7" r="2.3"/>
<line x1="61.5" y1="963.30" x2="320.2" y2="963.30" stroke="#000" stroke-width="1.8"/>
<circle fill="#fff" stroke="#222" stroke-width="1" cx="93.6" cy="864.4" r="2.3"/>
<circle fill="#fff" stroke="#222" stroke-width="1" cx="93.6" cy="870" r="2.3"/>
<circle fill="#fff" stroke="#222" stroke-width="1" cx="102.2" cy="868.7" r="2.3"/>
<circle fill="#fff" stroke="#222" stroke-width="1" cx="84.4" cy="896.7" r="2.3"/>
<circle fill="#fff" stroke="#222" stroke-width="1" cx="93.6" cy="899.8" r="2.3"/>
<circle fill="#fff" stroke="#222" stroke-width="1" cx="102.2" cy="899.2" r="2.3"/>
<circle fill="#fff" stroke="#222" stroke-width="1" cx="84.4" cy="916.2" r="2.3"/>
<circle fill="#fff" stroke="#222" stroke-width="1" cx="93.3" cy="914.4" r="2.3"/>
<circle fill="#fff" stroke="#222" stroke-width="1" cx="102.2" cy="916.5" r="2.3"/>
<circle fill="#fff" stroke="#222" stroke-width="1" cx="111.1" cy="916.2" r="2.3"/>
<circle fill="#fff" stroke="#222" stroke-width="1" cx="102.2" cy="922.4" r="2.3"/>
<circle fill="#fff" stroke="#222" stroke-width="1" cx="93.3" cy="925.5" r="2.3"/>
<circle fill="#fff" stroke="#222" stroke-width="1" cx="159.3" cy="899.6" r="2.3"/>
<circle fill="#fff" stroke="#222" stroke-width="1" cx="159.3" cy="913.8" r="2.3"/>
<circle fill="#fff" stroke="#222" stroke-width="1" cx="159.3" cy="923.6" r="2.3"/>
<circle fill="#fff" stroke="#222" stroke-width="1" cx="159.3" cy="932.6" r="2.3"/>
<circle fill="#fff" stroke="#222" stroke-width="1" cx="150.4" cy="943.3" r="2.3"/>
<circle fill="#fff" stroke="#222" stroke-width="1" cx="159.3" cy="945.9" r="2.3"/>
<circle fill="#fff" stroke="#222" stroke-width="1" cx="150.4" cy="949.2" r="2.3"/>
<circle fill="#fff" stroke="#222" stroke-width="1" cx="159.3" cy="953.5" r="2.3"/>
<circle fill="#fff" stroke="#222" stroke-width="1" cx="150.4" cy="956.3" r="2.3"/>
<circle fill="#fff" stroke="#222" stroke-width="1" cx="168.2" cy="957" r="2.3"/>
<circle fill="#fff" stroke="#222" stroke-width="1" cx="159.3" cy="967.3" r="2.3"/>
<circle fill="#fff" stroke="#222" stroke-width="1" cx="159.3" cy="973.9" r="2.3"/>
<circle fill="#fff" stroke="#222" stroke-width="1" cx="211.7" cy="915.4" r="2.3"/>
<circle fill="#fff" stroke="#222" stroke-width="1" cx="220.9" cy="919.4" r="2.3"/>
<circle fill="#fff" stroke="#222" stroke-width="1" cx="220.9" cy="924.2" r="2.3"/>
<circle fill="#fff" stroke="#222" stroke-width="1" cx="220.9" cy="930.4" r="2.3"/>
<circle fill="#fff" stroke="#222" stroke-width="1" cx="212" cy="945" r="2.3"/>
<circle fill="#fff" stroke="#222" stroke-width="1" cx="220.9" cy="945.9" r="2.3"/>
<circle fill="#fff" stroke="#222" stroke-width="1" cx="229.8" cy="947.4" r="2.3"/>
<circle fill="#fff" stroke="#222" stroke-width="1" cx="212" cy="950.8" r="2.3"/>
<circle fill="#fff" stroke="#222" stroke-width="1" cx="220.9" cy="950.8" r="2.3"/>
<circle fill="#fff" stroke="#222" stroke-width="1" cx="229.8" cy="952.7" r="2.3"/>
<circle fill="#fff" stroke="#222" stroke-width="1" cx="220.9" cy="956.6" r="2.3"/>
<circle fill="#fff" stroke="#222" stroke-width="1" cx="220.9" cy="969.9" r="2.3"/>
<circle fill="#fff" stroke="#222" stroke-width="1" cx="220.9" cy="982.3" r="2.3"/>
<circle fill="#fff" stroke="#222" stroke-width="1" cx="282.5" cy="894.5" r="2.3"/>
<circle fill="#fff" stroke="#222" stroke-width="1" cx="282.5" cy="935" r="2.3"/>
<circle fill="#fff" stroke="#222" stroke-width="1" cx="282.5" cy="942.6" r="2.3"/>
<circle fill="#fff" stroke="#222" stroke-width="1" cx="282.5" cy="954.3" r="2.3"/>
<circle fill="#fff" stroke="#222" stroke-width="1" cx="282.5" cy="959" r="2.3"/>
<circle fill="#fff" stroke="#222" stroke-width="1" cx="282.5" cy="969" r="2.3"/>
<circle fill="#fff" stroke="#222" stroke-width="1" cx="277.9" cy="986.2" r="2.3"/>
<circle fill="#fff" stroke="#222" stroke-width="1" cx="277.9" cy="991.3" r="2.3"/>
<circle fill="#fff" stroke="#222" stroke-width="1" cx="287" cy="991.1" r="2.3"/>
<path d="M61.5,828.30 V1033.70 H320.2" fill="none" stroke="#111" stroke-width="1.4"/>
<line x1="55.6" y1="834.50" x2="61.5" y2="834.50" stroke="#111" stroke-width="1.2"/>
<text x="53.3" y="839.00" text-anchor="end" font-size="11.5" fill="#111">4</text>
<line x1="55.6" y1="898.90" x2="61.5" y2="898.90" stroke="#111" stroke-width="1.2"/>
<text x="53.3" y="903.40" text-anchor="end" font-size="11.5" fill="#111">2</text>
<line x1="55.6" y1="963.30" x2="61.5" y2="963.30" stroke="#111" stroke-width="1.2"/>
<text x="53.3" y="967.80" text-anchor="end" font-size="11.5" fill="#111">0</text>
<line x1="55.6" y1="1027.70" x2="61.5" y2="1027.70" stroke="#111" stroke-width="1.2"/>
<text x="53.3" y="1032.20" text-anchor="end" font-size="11.5" fill="#111">-2</text>
<line x1="98.0" y1="1033.70" x2="98.0" y2="1040.40" stroke="#111" stroke-width="1.2"/>
<line x1="159.6" y1="1033.70" x2="159.6" y2="1040.40" stroke="#111" stroke-width="1.2"/>
<line x1="221.2" y1="1033.70" x2="221.2" y2="1040.40" stroke="#111" stroke-width="1.2"/>
<line x1="282.8" y1="1033.70" x2="282.8" y2="1040.40" stroke="#111" stroke-width="1.2"/>
<text transform="translate(31,930.30) rotate(-90)" text-anchor="middle" font-size="14.2" fill="#111">Emotional Z- Score</text>
<text x="63" y="1062.90" text-anchor="end" font-size="14.2" fill="#111">VLX</text>
<text x="63" y="1088.90" text-anchor="end" font-size="14.2" fill="#111">EE</text>
<line x1="94.90" y1="1059.20" x2="101.10" y2="1059.20" stroke="#111" stroke-width="1.9"/>
<line x1="94.90" y1="1083.10" x2="101.10" y2="1083.10" stroke="#111" stroke-width="1.9"/>
<path d="M154.40,1057.80 H164.80 M159.60,1052.80 V1062.80" stroke="#111" stroke-width="1.9" fill="none"/>
<line x1="156.50" y1="1083.10" x2="162.70" y2="1083.10" stroke="#111" stroke-width="1.9"/>
<line x1="218.10" y1="1059.20" x2="224.30" y2="1059.20" stroke="#111" stroke-width="1.9"/>
<path d="M216.00,1081.70 H226.40 M221.20,1076.70 V1086.70" stroke="#111" stroke-width="1.9" fill="none"/>
<path d="M277.60,1057.80 H288.00 M282.80,1052.80 V1062.80" stroke="#111" stroke-width="1.9" fill="none"/>
<path d="M277.60,1081.70 H288.00 M282.80,1076.70 V1086.70" stroke="#111" stroke-width="1.9" fill="none"/>
<polygon points="153.04,877.97 154.06,880.03 156.33,880.37 154.69,881.97 155.07,884.24 153.04,883.17 151.00,884.24 151.39,881.97 149.75,880.37 152.02,880.03" fill="#111"/>
<polygon points="159.60,877.97 160.62,880.03 162.89,880.37 161.25,881.97 161.64,884.24 159.60,883.17 157.56,884.24 157.95,881.97 156.31,880.37 158.58,880.03" fill="#111"/>
<polygon points="166.16,877.97 167.18,880.03 169.45,880.37 167.81,881.97 168.20,884.24 166.16,883.17 164.13,884.24 164.51,881.97 162.87,880.37 165.14,880.03" fill="#111"/>
<polygon points="214.73,893.49 215.71,895.48 217.90,895.79 216.32,897.34 216.69,899.52 214.73,898.49 212.77,899.52 213.15,897.34 211.56,895.79 213.75,895.48" fill="#111"/>
<polygon points="221.45,893.49 222.43,895.48 224.62,895.79 223.04,897.34 223.41,899.52 221.45,898.49 219.49,899.52 219.86,897.34 218.28,895.79 220.47,895.48" fill="#111"/>
<polygon points="228.17,893.49 229.15,895.48 231.34,895.79 229.75,897.34 230.13,899.52 228.17,898.49 226.21,899.52 226.58,897.34 225.00,895.79 227.19,895.48" fill="#111"/>
<polygon points="275.98,872.62 276.90,874.49 278.96,874.79 277.47,876.24 277.82,878.30 275.98,877.33 274.13,878.30 274.48,876.24 272.99,874.79 275.05,874.49" fill="#111"/>
<polygon points="282.85,872.62 283.77,874.49 285.84,874.79 284.34,876.24 284.70,878.30 282.85,877.33 281.00,878.30 281.36,876.24 279.86,874.79 281.93,874.49" fill="#111"/>
<polygon points="289.72,872.62 290.65,874.49 292.71,874.79 291.22,876.24 291.57,878.30 289.72,877.33 287.88,878.30 288.23,876.24 286.74,874.79 288.80,874.49" fill="#111"/>
<rect x="413.5" y="956.10" width="258.7" height="14.60" fill="url(#hatch)"/>
<rect x="425.60" y="897.20" width="48.8" height="66.10" fill="#dddee2" stroke="#5c5c5c" stroke-width="1"/>
<line x1="450.00" y1="889.30" x2="450.00" y2="897.20" stroke="#555" stroke-width="1.1"/>
<line x1="437.70" y1="889.30" x2="462.30" y2="889.30" stroke="#555" stroke-width="1.2"/>
<rect x="487.20" y="958.40" width="48.8" height="4.90" fill="#f6ec8e" stroke="#3a3520" stroke-width="1"/>
<line x1="511.60" y1="951.10" x2="511.60" y2="958.40" stroke="#555" stroke-width="1.1"/>
<line x1="499.30" y1="951.10" x2="523.90" y2="951.10" stroke="#555" stroke-width="1.2"/>
<rect x="548.80" y="956.10" width="48.8" height="7.20" fill="#f08a80" stroke="#3a2220" stroke-width="1"/>
<line x1="573.20" y1="948.80" x2="573.20" y2="956.10" stroke="#555" stroke-width="1.1"/>
<line x1="560.90" y1="948.80" x2="585.50" y2="948.80" stroke="#555" stroke-width="1.2"/>
<rect x="610.40" y="946.30" width="48.8" height="17.00" fill="#e33b27" stroke="#3a1c18" stroke-width="1"/>
<line x1="634.80" y1="934.20" x2="634.80" y2="946.30" stroke="#555" stroke-width="1.1"/>
<line x1="622.50" y1="934.20" x2="647.10" y2="934.20" stroke="#555" stroke-width="1.2"/>
<line x1="413.5" y1="963.30" x2="672.2" y2="963.30" stroke="#000" stroke-width="1.8"/>
<circle fill="#fff" stroke="#222" stroke-width="1" cx="450.1" cy="844.3" r="2.3"/>
<circle fill="#fff" stroke="#222" stroke-width="1" cx="445.8" cy="872.9" r="2.3"/>
<circle fill="#fff" stroke="#222" stroke-width="1" cx="454.5" cy="871.6" r="2.3"/>
<circle fill="#fff" stroke="#222" stroke-width="1" cx="450.2" cy="883.8" r="2.3"/>
<circle fill="#fff" stroke="#222" stroke-width="1" cx="450.2" cy="890.2" r="2.3"/>
<circle fill="#fff" stroke="#222" stroke-width="1" cx="450.2" cy="898.2" r="2.3"/>
<circle fill="#fff" stroke="#222" stroke-width="1" cx="450.2" cy="906.6" r="2.3"/>
<circle fill="#fff" stroke="#222" stroke-width="1" cx="441.3" cy="910.3" r="2.3"/>
<circle fill="#fff" stroke="#222" stroke-width="1" cx="450.2" cy="911.8" r="2.3"/>
<circle fill="#fff" stroke="#222" stroke-width="1" cx="459.1" cy="910.4" r="2.3"/>
<circle fill="#fff" stroke="#222" stroke-width="1" cx="450.2" cy="928.3" r="2.3"/>
<circle fill="#fff" stroke="#222" stroke-width="1" cx="450.2" cy="933.2" r="2.3"/>
<circle fill="#fff" stroke="#222" stroke-width="1" cx="502.9" cy="930.8" r="2.3"/>
<circle fill="#fff" stroke="#222" stroke-width="1" cx="511.6" cy="929.1" r="2.3"/>
<circle fill="#fff" stroke="#222" stroke-width="1" cx="520.5" cy="927.6" r="2.3"/>
<circle fill="#fff" stroke="#222" stroke-width="1" cx="507.3" cy="943.1" r="2.3"/>
<circle fill="#fff" stroke="#222" stroke-width="1" cx="516.2" cy="942.7" r="2.3"/>
<circle fill="#fff" stroke="#222" stroke-width="1" cx="520.5" cy="953.6" r="2.3"/>
<circle fill="#fff" stroke="#222" stroke-width="1" cx="511.6" cy="957.5" r="2.3"/>
<circle fill="#fff" stroke="#222" stroke-width="1" cx="511.6" cy="965.6" r="2.3"/>
<circle fill="#fff" stroke="#222" stroke-width="1" cx="511.6" cy="976.4" r="2.3"/>
<circle fill="#fff" stroke="#222" stroke-width="1" cx="511.6" cy="981.2" r="2.3"/>
<circle fill="#fff" stroke="#222" stroke-width="1" cx="511.6" cy="992.4" r="2.3"/>
<circle fill="#fff" stroke="#222" stroke-width="1" cx="511.6" cy="998" r="2.3"/>
<circle fill="#fff" stroke="#222" stroke-width="1" cx="560" cy="940.3" r="2.3"/>
<circle fill="#fff" stroke="#222" stroke-width="1" cx="568.9" cy="938.5" r="2.3"/>
<circle fill="#fff" stroke="#222" stroke-width="1" cx="577.8" cy="936.4" r="2.3"/>
<circle fill="#fff" stroke="#222" stroke-width="1" cx="586.7" cy="934.8" r="2.3"/>
<circle fill="#fff" stroke="#222" stroke-width="1" cx="586.7" cy="940.3" r="2.3"/>
<circle fill="#fff" stroke="#222" stroke-width="1" cx="568.9" cy="943.5" r="2.3"/>
<circle fill="#fff" stroke="#222" stroke-width="1" cx="577.8" cy="942.3" r="2.3"/>
<circle fill="#fff" stroke="#222" stroke-width="1" cx="577.8" cy="947.7" r="2.3"/>
<circle fill="#fff" stroke="#222" stroke-width="1" cx="568.9" cy="949.4" r="2.3"/>
<circle fill="#fff" stroke="#222" stroke-width="1" cx="560" cy="951.5" r="2.3"/>
<circle fill="#fff" stroke="#222" stroke-width="1" cx="577.8" cy="952.4" r="2.3"/>
<circle fill="#fff" stroke="#222" stroke-width="1" cx="577.8" cy="967.5" r="2.3"/>
<circle fill="#fff" stroke="#222" stroke-width="1" cx="568.9" cy="970.8" r="2.3"/>
<circle fill="#fff" stroke="#222" stroke-width="1" cx="573.3" cy="984.5" r="2.3"/>
<circle fill="#fff" stroke="#222" stroke-width="1" cx="573.3" cy="1032.4" r="2.3"/>
<circle fill="#fff" stroke="#222" stroke-width="1" cx="634.8" cy="894.2" r="2.3"/>
<circle fill="#fff" stroke="#222" stroke-width="1" cx="630.6" cy="917.6" r="2.3"/>
<circle fill="#fff" stroke="#222" stroke-width="1" cx="639.5" cy="916.7" r="2.3"/>
<circle fill="#fff" stroke="#222" stroke-width="1" cx="635" cy="933.9" r="2.3"/>
<circle fill="#fff" stroke="#222" stroke-width="1" cx="630.6" cy="944.8" r="2.3"/>
<circle fill="#fff" stroke="#222" stroke-width="1" cx="639.5" cy="947.9" r="2.3"/>
<circle fill="#fff" stroke="#222" stroke-width="1" cx="635" cy="965.6" r="2.3"/>
<circle fill="#fff" stroke="#222" stroke-width="1" cx="635" cy="991.1" r="2.3"/>
<circle fill="#fff" stroke="#222" stroke-width="1" cx="635" cy="1001.3" r="2.3"/>
<path d="M413.5,828.30 V1033.70 H672.2" fill="none" stroke="#111" stroke-width="1.4"/>
<line x1="407.6" y1="834.50" x2="413.5" y2="834.50" stroke="#111" stroke-width="1.2"/>
<text x="405.3" y="839.00" text-anchor="end" font-size="11.5" fill="#111">4</text>
<line x1="407.6" y1="898.90" x2="413.5" y2="898.90" stroke="#111" stroke-width="1.2"/>
<text x="405.3" y="903.40" text-anchor="end" font-size="11.5" fill="#111">2</text>
<line x1="407.6" y1="963.30" x2="413.5" y2="963.30" stroke="#111" stroke-width="1.2"/>
<text x="405.3" y="967.80" text-anchor="end" font-size="11.5" fill="#111">0</text>
<line x1="407.6" y1="1027.70" x2="413.5" y2="1027.70" stroke="#111" stroke-width="1.2"/>
<text x="405.3" y="1032.20" text-anchor="end" font-size="11.5" fill="#111">-2</text>
<line x1="450.0" y1="1033.70" x2="450.0" y2="1040.40" stroke="#111" stroke-width="1.2"/>
<line x1="511.6" y1="1033.70" x2="511.6" y2="1040.40" stroke="#111" stroke-width="1.2"/>
<line x1="573.2" y1="1033.70" x2="573.2" y2="1040.40" stroke="#111" stroke-width="1.2"/>
<line x1="634.8" y1="1033.70" x2="634.8" y2="1040.40" stroke="#111" stroke-width="1.2"/>
<text transform="translate(383,930.30) rotate(-90)" text-anchor="middle" font-size="14.2" fill="#111">Cognitive Z-score</text>
<text x="415" y="1062.90" text-anchor="end" font-size="14.2" fill="#111">VLX</text>
<text x="415" y="1088.90" text-anchor="end" font-size="14.2" fill="#111">EE</text>
<line x1="446.90" y1="1059.20" x2="453.10" y2="1059.20" stroke="#111" stroke-width="1.9"/>
<line x1="446.90" y1="1083.10" x2="453.10" y2="1083.10" stroke="#111" stroke-width="1.9"/>
<path d="M506.40,1057.80 H516.80 M511.60,1052.80 V1062.80" stroke="#111" stroke-width="1.9" fill="none"/>
<line x1="508.50" y1="1083.10" x2="514.70" y2="1083.10" stroke="#111" stroke-width="1.9"/>
<line x1="570.10" y1="1059.20" x2="576.30" y2="1059.20" stroke="#111" stroke-width="1.9"/>
<path d="M568.00,1081.70 H578.40 M573.20,1076.70 V1086.70" stroke="#111" stroke-width="1.9" fill="none"/>
<path d="M629.60,1057.80 H640.00 M634.80,1052.80 V1062.80" stroke="#111" stroke-width="1.9" fill="none"/>
<path d="M629.60,1081.70 H640.00 M634.80,1076.70 V1086.70" stroke="#111" stroke-width="1.9" fill="none"/>
<polygon points="505.83,909.31 506.77,911.22 508.88,911.52 507.35,913.01 507.71,915.11 505.83,914.12 503.94,915.11 504.30,913.01 502.78,911.52 504.89,911.22" fill="#111"/>
<polygon points="512.60,909.31 513.54,911.22 515.65,911.52 514.12,913.01 514.48,915.11 512.60,914.12 510.72,915.11 511.08,913.01 509.55,911.52 511.66,911.22" fill="#111"/>
<polygon points="519.37,909.31 520.31,911.22 522.42,911.52 520.90,913.01 521.26,915.11 519.37,914.12 517.49,915.11 517.85,913.01 516.32,911.52 518.43,911.22" fill="#111"/>
<polygon points="566.98,920.40 567.94,922.35 570.09,922.66 568.54,924.17 568.90,926.31 566.98,925.30 565.06,926.31 565.43,924.17 563.87,922.66 566.02,922.35" fill="#111"/>
<polygon points="573.70,920.40 574.66,922.35 576.81,922.66 575.26,924.17 575.62,926.31 573.70,925.30 571.78,926.31 572.14,924.17 570.59,922.66 572.74,922.35" fill="#111"/>
<polygon points="580.42,920.40 581.38,922.35 583.53,922.66 581.97,924.17 582.34,926.31 580.42,925.30 578.50,926.31 578.86,924.17 577.31,922.66 579.46,922.35" fill="#111"/>
<polygon points="630.28,872.62 631.20,874.49 633.26,874.79 631.77,876.24 632.12,878.30 630.28,877.33 628.43,878.30 628.78,876.24 627.29,874.79 629.35,874.49" fill="#111"/>
<polygon points="637.22,872.62 638.15,874.49 640.21,874.79 638.72,876.24 639.07,878.30 637.22,877.33 635.38,878.30 635.73,876.24 634.24,874.79 636.30,874.49" fill="#111"/>
</svg>
</body></html>
